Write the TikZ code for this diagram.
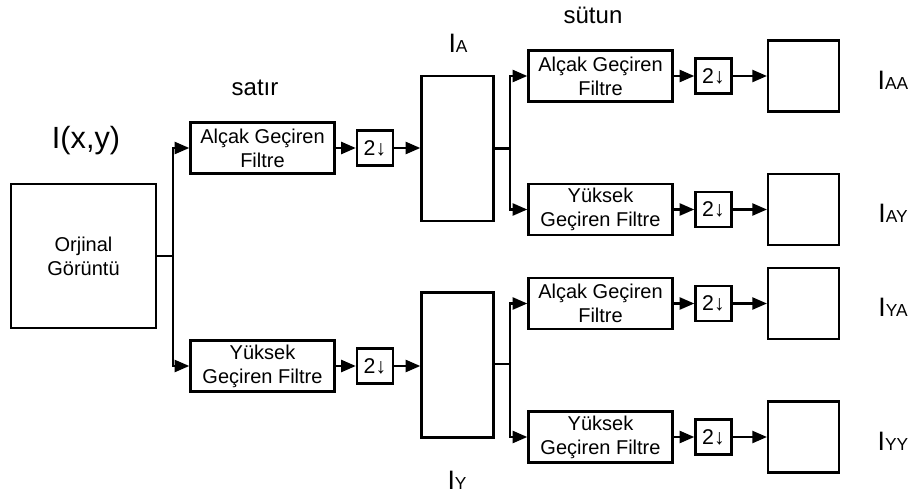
\documentclass[tikz,border=0pt]{standalone}
\usepackage{fontspec}
\setmainfont{Liberation Sans}
\usetikzlibrary{arrows.meta}
\newcommand{\imlabel}[1]{{\fontsize{20}{22}\selectfont I}{\fontsize{13}{15}\selectfont #1}}
\begin{document}
\begin{tikzpicture}[x=0.75pt, y=-0.75pt, line width=1.8pt,
	arr/.style={-{Triangle[length=11pt,width=9pt]}},
	box/.style={draw, line width=1.8pt, inner sep=0pt},
	filtre/.style={box, minimum width=108pt, minimum height=38pt, align=center, font=\fontsize{15}{18}\selectfont},
	down/.style={box, minimum width=27pt, minimum height=26pt, font=\fontsize{16}{18}\selectfont},
	image/.style={box, minimum width=54pt, minimum height=109pt},
	sub/.style={box, minimum width=53pt, minimum height=53pt},
	label/.style={inner sep=0pt, font=\fontsize{18}{20}\selectfont}]
	\useasboundingbox (0,0) rectangle (915,500);
	% input image and first stage (rows)
	\node[box, minimum width=109pt, minimum height=108pt, align=center, font=\fontsize{15}{18}\selectfont] (orj) at (83.5,256) {Orjinal\\Görüntü};
	\node[inner sep=0pt, font=\fontsize{23}{25}\selectfont] (ixy) at (86,141) {I(x,y)};
	\node[label] (satir) at (255,88) {satır};
	\node[filtre] (alcak) at (262.5,148) {Alçak Geçiren\\Filtre};
	\node[filtre] (yuksek) at (262.5,366) {Yüksek\\Geçiren Filtre};
	\node[down] (dA) at (375,148) {2↓};
	\node[down] (dY) at (375,366) {2↓};
	\node[image] (iA) at (457.5,148.5) {};
	\node[image] (iY) at (457.5,365) {};
	\node[inner sep=0pt] (lA) at (458,43) {\imlabel{A}};
	\node[inner sep=0pt] (lY) at (457,480) {\imlabel{Y}};
	\coordinate (s0) at (173,256);
	\draw (orj.east) -- (s0);
	\draw[arr] (s0) |- (alcak.west);
	\draw[arr] (s0) |- (yuksek.west);
	\draw[arr] (alcak) -- (dA);
	\draw[arr] (yuksek) -- (dY);
	\draw[arr] (dA) -- (iA.west |- dA);
	\draw[arr] (dY) -- (iY.west |- dY);
	% second stage (columns)
	\node[label] (sutun) at (593,15) {sütun};
	\foreach \n/\y/\t in {AA/76/{Alçak Geçiren\\Filtre}, AY/209.5/{Yüksek\\Geçiren Filtre}, YA/303.5/{Alçak Geçiren\\Filtre}, YY/437/{Yüksek\\Geçiren Filtre}}{
		\node[filtre] (f\n) at (600.5,\y) {\t};
		\node[down] (d\n) at (713.5,\y) {2↓};
		\node[sub] (o\n) at (803.5,\y) {};
		\node[inner sep=0pt] (l\n) at (893,\y+4) {\imlabel{\n}};
		\draw[arr] (f\n) -- (d\n);
		\draw[arr] (d\n) -- (o\n);
	}
	\coordinate (sA) at (510,148.5);
	\coordinate (sY) at (510,364);
	\draw (iA.east |- sA) -- (sA);
	\draw (iY.east |- sY) -- (sY);
	\draw[arr] (sA) |- (fAA.west);
	\draw[arr] (sA) |- (fAY.west);
	\draw[arr] (sY) |- (fYA.west);
	\draw[arr] (sY) |- (fYY.west);
\end{tikzpicture}
\end{document}
